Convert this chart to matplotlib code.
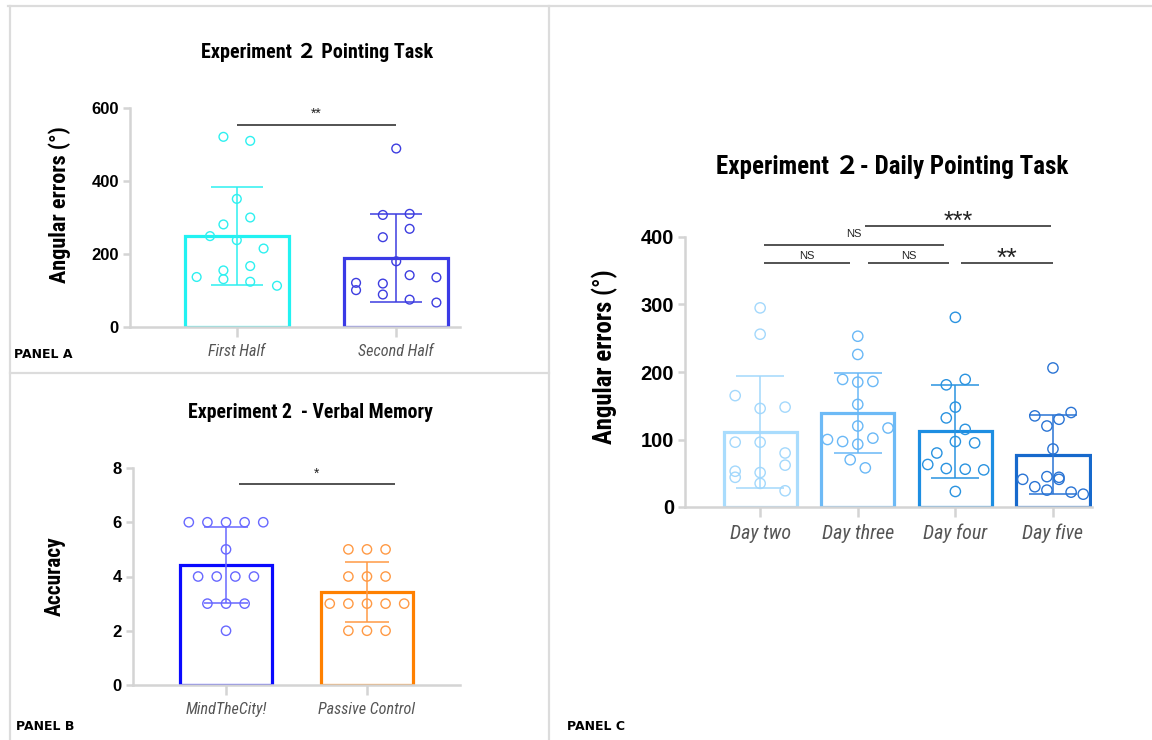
import numpy as np
import matplotlib
matplotlib.use("Agg")
import matplotlib.pyplot as plt
from matplotlib.lines import Line2D

# Panel A: pointing task, first vs second half
half_labels = ["First Half", "Second Half"]
first_half = [521, 510, 351, 300, 281, 249, 238, 215, 155, 167, 131, 124, 137, 113]
second_half = [489, 307, 310, 269, 246, 180, 142, 136, 121, 119, 101, 89, 75, 67]

# Panel B: verbal memory accuracy
memory_labels = ["MindTheCity!", "Passive Control"]
mind_the_city = [6, 6, 6, 6, 6, 5, 4, 4, 4, 4, 3, 3, 3, 2]
passive_control = [5, 5, 5, 4, 4, 4, 3, 3, 3, 3, 3, 2, 2, 2]

# Panel C: daily pointing task
day_labels = ["Day two", "Day three", "Day four", "Day five"]
day_two = [295, 256, 165, 146, 148, 96, 96, 80, 62, 53, 44, 51, 35, 24]
day_three = [253, 226, 189, 185, 186, 152, 120, 117, 100, 97, 102, 93, 70, 58]
day_four = [281, 189, 181, 148, 132, 115, 97, 80, 95, 63, 57, 56, 55, 23]
day_five = [206, 135, 140, 130, 120, 86, 41, 45, 44, 41, 30, 25, 22, 19]

# horizontal slot of every dot inside its bar (beeswarm layout)
first_slots = [-1, 1, 0, 1, -1, -2, 0, 2, -1, 1, -1, 1, -3, 3]
second_slots = [0, -1, 1, 1, -1, 0, 1, 3, -3, -1, -3, -1, 1, 3]
mind_slots = [-2, -1, 0, 1, 2, 0, -1.5, -0.5, 0.5, 1.5, -1, 0, 1, 0]
passive_slots = [-1, 0, 1, -1, 0, 1, -2, -1, 0, 1, 2, -1, 0, 1]
day_two_slots = [0, 0, -3.3, 0, 3.3, -3.3, 0, 3.3, 3.3, -3.3, -3.3, 0, 0, 3.3]
day_three_slots = [0, 0, -2, 0, 2, 0, 0, 4, -4, -2, 2, 0, -1, 1]
day_four_slots = [0, 1.3, -1.2, 0, -1.2, 1.3, 0, -2.45, 2.55, -3.65, -1.2, 1.3, 3.75, 0]
day_five_slots = [0, -2.4, 2.4, 0.8, -0.8, 0, -4, -0.8, 0.8, 0.8, -2.4, -0.8, 2.4, 4]

NARROW = ["Roboto Condensed", "Liberation Sans", "Noto Sans CJK SC"]
PLAIN = ["Liberation Sans", "DejaVu Sans"]
AXIS_GREY = "#d4d4d4"

W, H = 1152, 740
fig = plt.figure(figsize=(W / 100, H / 100), dpi=100)


def px_axes(x0, x1, y_top, y_bot):
    return fig.add_axes([x0 / W, 1 - y_bot / H, (x1 - x0) / W, (y_bot - y_top) / H])


def draw_groups(ax, groups, slots, slot_w, bar_cols, dot_cols, bar_w, capsize, msize):
    for i, (vals, sl) in enumerate(zip(groups, slots)):
        vals = np.asarray(vals, float)
        m, sd = vals.mean(), vals.std(ddof=1)
        ax.bar(i, m, width=bar_w, facecolor="none", edgecolor=bar_cols[i],
               linewidth=2.3, zorder=1)
        ax.errorbar(i, m, yerr=sd, fmt="none", ecolor=dot_cols[i], elinewidth=1.1,
                    capsize=capsize, capthick=1.1, zorder=2)
        ax.scatter(i + np.asarray(sl) * slot_w, vals, s=msize ** 2, facecolors="none",
                   edgecolors=dot_cols[i], linewidths=1.0, zorder=3, clip_on=False)


def style_axes(ax, xlim, ylim, yticks, xlabels, ylabel, ytick_fs, xtick_fs, ylab_fs, ylab_xy):
    ax.set_xlim(*xlim)
    ax.set_ylim(*ylim)
    for s in ["top", "right"]:
        ax.spines[s].set_visible(False)
    for s in ["left", "bottom"]:
        ax.spines[s].set_color(AXIS_GREY)
        ax.spines[s].set_linewidth(1.8)
    ax.set_yticks(yticks)
    ax.set_yticklabels([str(t) for t in yticks], fontsize=ytick_fs, fontweight="bold",
                       family=PLAIN)
    ax.set_xticks(range(len(xlabels)))
    ax.set_xticklabels(xlabels, fontsize=xtick_fs, style="italic", color="#555555",
                       family=NARROW)
    ax.tick_params(axis="y", color=AXIS_GREY, width=1.8, length=5, pad=3)
    ax.tick_params(axis="x", color=AXIS_GREY, width=1.8, length=7, pad=5)
    ax.set_ylabel(ylabel, fontsize=ylab_fs, fontweight="bold", family=NARROW)
    ax.yaxis.set_label_coords(*ylab_xy)
    ax.patch.set_visible(False)


def bracket(ax, x0, x1, y, text, ty, fs, color="#444444"):
    ax.plot([x0, x1], [y, y], color=color, lw=1.3, solid_capstyle="butt", clip_on=False)
    ax.text((x0 + x1) / 2, ty, text, ha="center", va="center", fontsize=fs,
            family=PLAIN, color="#222222", clip_on=False)


# ---- panel A
axA = px_axes(130, 460, 108, 327)
draw_groups(axA, [first_half, second_half], [first_slots, second_slots], 0.084,
            ["#22f2f2", "#3a3ae6"], ["#2ef0f0", "#3d3de0"], 0.65, 19, 6.3)
style_axes(axA, (-0.67, 1.40), (0, 600), [0, 200, 400, 600], half_labels,
           "Angular errors (°)", 12, 11.6, 16, (-0.18, 0.56))
bracket(axA, 0, 1, 553, "**", 585, 10)
fig.text(317 / W, 1 - 52 / H, "Experiment ２ Pointing Task", ha="center", va="center",
         fontsize=14.5, fontweight="bold", family=NARROW)

# ---- panel B
axB = px_axes(133, 460, 468, 685)
draw_groups(axB, [mind_the_city, passive_control], [mind_slots, passive_slots], 0.132,
            ["#0a0aff", "#ff8000"], ["#6868ff", "#ff9a45"], 0.65, 16, 6.7)
style_axes(axB, (-0.66, 1.66), (0, 8), [0, 2, 4, 6, 8], memory_labels,
           "Accuracy", 12, 11.6, 15.5, (-0.205, 0.5))
bracket(axB, 0.09, 1.2, 7.41, "*", 7.8, 10)
fig.text(311 / W, 1 - 412 / H, "Experiment 2  - Verbal Memory", ha="center", va="center",
         fontsize=14.2, fontweight="bold", family=NARROW)

# ---- panel C
axC = px_axes(685, 1092, 237, 507)
draw_groups(axC, [day_two, day_three, day_four, day_five],
            [day_two_slots, day_three_slots, day_four_slots, day_five_slots], 0.0775,
            ["#a9dcfd", "#6dbaf6", "#1d8ee2", "#1769cc"],
            ["#a3d8fc", "#6ab8f6", "#2a93e0", "#2a74d4"], 0.75, 17, 7.4)
style_axes(axC, (-0.77, 3.4), (0, 400), [0, 100, 200, 300, 400], day_labels,
           "Angular errors (°)", 14.5, 14.4, 17.8, (-0.165, 0.556))
bracket(axC, 0.04, 0.92, 361, "NS", 372, 8)
bracket(axC, 1.11, 1.93, 361, "NS", 372, 8)
bracket(axC, 2.06, 3.0, 361, "**", 368, 19)
bracket(axC, 0.04, 1.88, 388, "NS", 404, 8)
bracket(axC, 1.07, 2.98, 417, "***", 422, 18)
fig.text(892 / W, 1 - 167 / H, "Experiment ２- Daily Pointing Task", ha="center",
         va="center", fontsize=18, fontweight="bold", family=NARROW)

# ---- panel frames and tags
frame_kw = dict(color="#dcdcdc", lw=1.6, transform=fig.transFigure)
for xs, ys in [((8, W), (6, 6)), ((10, 10), (6, H)), ((549, 549), (6, H)),
               ((10, 549), (373, 373))]:
    fig.add_artist(Line2D([x / W for x in xs], [1 - y / H for y in ys], **frame_kw))

for x, y, tag in [(14, 355, "PANEL A"), (16, 726, "PANEL B"), (567, 726, "PANEL C")]:
    fig.text(x / W, 1 - y / H, tag, ha="left", va="center", fontsize=9,
             fontweight="heavy", family="DejaVu Sans")

fig.savefig("out.png", dpi=100)
